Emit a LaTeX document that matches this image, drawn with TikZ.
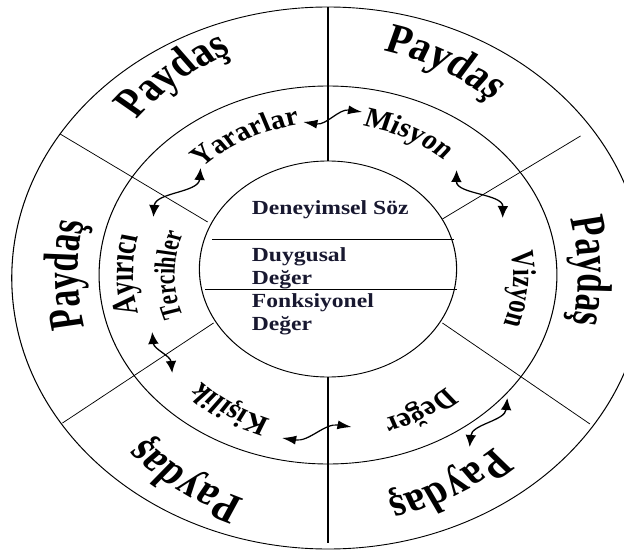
\documentclass[tikz,border=0pt]{standalone}
\usepackage{fontspec}
\setmainfont{Liberation Serif}
\usetikzlibrary{arrows.meta}
\usetikzlibrary{decorations.text}
\definecolor{corecol}{RGB}{24,24,48}

\begin{document}
\begin{tikzpicture}[x=1pt, y=1pt,
    ring/.style={line width = 0.9pt},
    spoke/.style={line width = 0.7pt},
    axisline/.style={line width = 1.1pt},
    link/.style={line width = 1.2pt, {Latex[length=12pt,width=9pt]}-{Latex[length=12pt,width=9pt]}},
    outerlbl/.style={decorate, decoration={text along path, text align=center,
        text={|\bfseries\fontsize{42}{42}\selectfont\addfontfeature{FakeStretch=0.82}|#1}}},
    midlbl/.style={decorate, decoration={text along path, text align=center,
        text={|\bfseries\fontsize{28}{28}\selectfont\addfontfeature{FakeStretch=0.88}|#1}}},
    core/.style={anchor=west, align=left, text=corecol, font=\bfseries\fontsize{20}{23}\selectfont}]
\useasboundingbox (-328,-277) rectangle (296,275);
\begin{scope}[transform canvas={xscale=1.18}]
    \coordinate (O) at (0,0);
    % draw ellipses
    \draw[ring] (0,-3) ellipse (268 and 271);
    \draw[ring] (O) ellipse (194 and 189);
    \draw[ring] (0,6) ellipse (109 and 108);
    % split the core
    \draw[spoke] (-98,36) -- (107,36);
    \draw[spoke] (-104,-14) -- (109,-14);
    % spokes between the sectors
    \coordinate (topin) at (0,114);
    \coordinate (topout) at (0,268);
    \coordinate (botin) at (0,-102);
    \coordinate (botout) at (0,-268);
    \coordinate (ulin) at (-102,53);
    \coordinate (ulout) at (-227,141);
    \coordinate (urin) at (97,56);
    \coordinate (urout) at (214,139);
    \coordinate (llin) at (-97,-48);
    \coordinate (llout) at (-225,-148);
    \coordinate (lrin) at (97,-48);
    \coordinate (lrout) at (222,-149);
    \draw[axisline] (topin) -- (topout);
    \draw[axisline] (botin) -- (botout);
    \draw[spoke] (ulin) -- (ulout);
    \draw[spoke] (urin) -- (urout);
    \draw[spoke] (llin) -- (llout);
    \draw[spoke] (lrin) -- (lrout);
    % outer ring labels
    \path[outerlbl={Paydaş}] (165:212 and 240) arc[start angle=165, end angle=85, x radius=212, y radius=240];
    \path[outerlbl={Paydaş}] (104:212 and 230) arc[start angle=104, end angle=24, x radius=212, y radius=230];
    \path[outerlbl={Paydaş}] (41:212 and 230) arc[start angle=41, end angle=-39, x radius=212, y radius=230];
    \path[outerlbl={Paydaş}] (-23:212 and 230) arc[start angle=-23, end angle=-103, x radius=212, y radius=230];
    \path[outerlbl={Paydaş}] (-82:212 and 238) arc[start angle=-82, end angle=-162, x radius=212, y radius=238];
    \path[outerlbl={Paydaş}] (220:212 and 230) arc[start angle=220, end angle=140, x radius=212, y radius=230];
    % middle ring labels
    \path[midlbl={Yararlar}] (162:150 and 152) arc[start angle=162, end angle=72, x radius=150, y radius=152];
    \path[midlbl={Misyon}] (109:150 and 152) arc[start angle=109, end angle=19, x radius=150, y radius=152];
    \path[midlbl={Vizyon}] (40:157 and 152) arc[start angle=40, end angle=-50, x radius=157, y radius=152];
    \path[midlbl={Değer}] (-15:150 and 152) arc[start angle=-15, end angle=-105, x radius=150, y radius=152];
    \path[midlbl={Kişilik}] (-77:150 and 152) arc[start angle=-77, end angle=-167, x radius=150, y radius=152];
    \path[decorate, decoration={text along path, text align=center,
        text={|\bfseries\fontsize{30}{30}\selectfont\addfontfeature{FakeStretch=0.88}|Ayırıcı}}]
        (225:165 and 160) arc[start angle=225, end angle=135, x radius=165, y radius=160];
    \path[decorate, decoration={text along path, text align=center,
        text={|\bfseries\fontsize{25}{25}\selectfont\addfontfeature{FakeStretch=0.85}|Tercihler}}]
        (225:130 and 126) arc[start angle=225, end angle=135, x radius=130, y radius=126];
    % core texts
    \node[core] (soz) at (-68,65) {Deneyimsel Söz};
    \node[core] (duygu) at (-68,7) {Duygusal\\Değer};
    \node[core] (fonk) at (-68,-39) {Fonksiyonel\\Değer};
    % links between the labels
    \coordinate (ym1) at (-21,153);
    \coordinate (ym2) at (29,163);
    \coordinate (ya1) at (-108,107);
    \coordinate (ya2) at (-148,58);
    \coordinate (mv1) at (109,105);
    \coordinate (mv2) at (148,57);
    \coordinate (ak1) at (-149,-57);
    \coordinate (ak2) at (-132,-98);
    \coordinate (kd1) at (-39,-163);
    \coordinate (kd2) at (20,-152);
    \coordinate (dp1) at (152,-123);
    \coordinate (dp2) at (120,-172);
    \draw[link] (ym1) to[out=-10, in=170] (ym2);
    \draw[link] (ya1) to[out=-94, in=86] (ya2);
    \draw[link] (mv1) to[out=-91, in=89] (mv2);
    \draw[link] (ak1) to[out=-85, in=95] (ak2);
    \draw[link] (kd1) to[out=-10, in=170] (kd2);
    \draw[link] (dp1) to[out=-95, in=85] (dp2);
\end{scope}
\end{tikzpicture}
\end{document}
